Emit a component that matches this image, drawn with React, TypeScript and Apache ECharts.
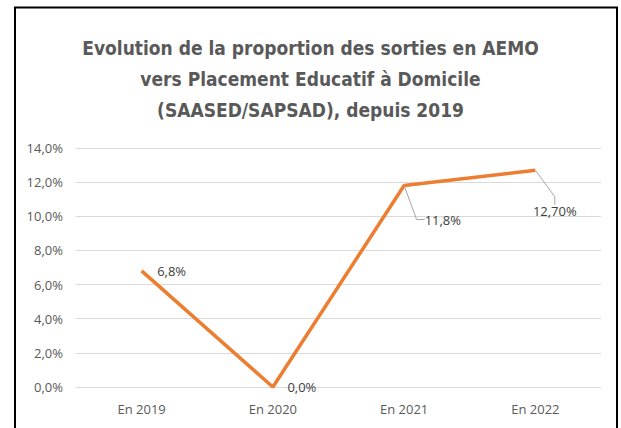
import React, { useEffect, useRef } from "react";
import * as echarts from "echarts";

const titleLines = [
  "Evolution de la proportion des sorties en AEMO",
  "vers Placement Educatif à Domicile",
  "(SAASED/SAPSAD), depuis 2019",
];
const categories = ["En 2019", "En 2020", "En 2021", "En 2022"];
const values = [6.8, 0.0, 11.8, 12.7];
const valueLabels = ["6,8%", "0,0%", "11,8%", "12,70%"];
const yTicks = [0, 2, 4, 6, 8, 10, 12, 14];

export default function App() {
  const ref = useRef<HTMLDivElement>(null);
  useEffect(() => {
    if (!ref.current) return;
    const chart = echarts.init(ref.current, null, { renderer: "svg" });
    const titleFont = "'DejaVu Sans Condensed', 'Open Sans', sans-serif";
    const font = "'Open Sans', sans-serif";
    const shifts = [
      { dx: 10, dy: 0 },
      { dx: 9, dy: 0 },
      { dx: 15, dy: 34 },
      { dx: -8, dy: 41 },
    ];
    chart.setOption({
      animation: false,
      backgroundColor: "#ffffff",
      title: {
        text: titleLines.join("\n"),
        left: "center",
        top: 27,
        textStyle: {
          fontFamily: titleFont,
          fontWeight: "bold",
          fontSize: 19,
          lineHeight: 31,
          color: "#595959",
        },
      },
      grid: { left: 76, right: 20, top: 148, bottom: 41, containLabel: false },
      xAxis: {
        type: "category",
        data: categories,
        boundaryGap: true,
        axisLine: { show: false },
        axisTick: { show: false },
        axisLabel: { color: "#595959", fontSize: 13, fontFamily: font, margin: 15 },
      },
      yAxis: {
        type: "value",
        min: 0,
        max: 14,
        interval: 2,
        axisLine: { show: false },
        axisTick: { show: false },
        splitLine: { lineStyle: { color: "#d9d9d9", width: 1 } },
        axisLabel: {
          color: "#595959",
          fontSize: 13,
          fontFamily: font,
          margin: 13,
          formatter: (v: number) => (yTicks.includes(v) ? v.toFixed(1).replace(".", ",") + "%" : ""),
        },
      },
      series: [
        {
          type: "line",
          data: values.map((v, i) => ({
            value: v,
            labelLine: { show: i >= 2 },
          })),
          symbol: "circle",
          symbolSize: 1,
          showSymbol: true,
          lineStyle: { color: "#ED7D31", width: 3.5 },
          itemStyle: { color: "rgba(0,0,0,0)" },
          label: {
            show: true,
            position: "right",
            distance: 5,
            color: "#404040",
            fontSize: 13,
            fontFamily: font,
            formatter: (p: any) => valueLabels[p.dataIndex],
          },
          labelLine: { show: true, showAbove: true, length2: 8, lineStyle: { color: "#a6a6a6", width: 1 } },
          labelLayout: (p: any) => {
            const s = shifts[p.dataIndex];
            return { dx: s.dx, dy: s.dy };
          },
        },
      ],
      graphic: [
        {
          type: "rect",
          shape: { x: 15, y: 7.5, width: 602, height: 440 },
          style: { fill: "none", stroke: "#000000", lineWidth: 2 },
          silent: true,
        },
      ],
    });
    return () => chart.dispose();
  }, []);
  return (
    <div
      ref={ref}
      style={{ position: "fixed", left: 0, top: 0, width: 621, height: 428 }}
    />
  );
}
